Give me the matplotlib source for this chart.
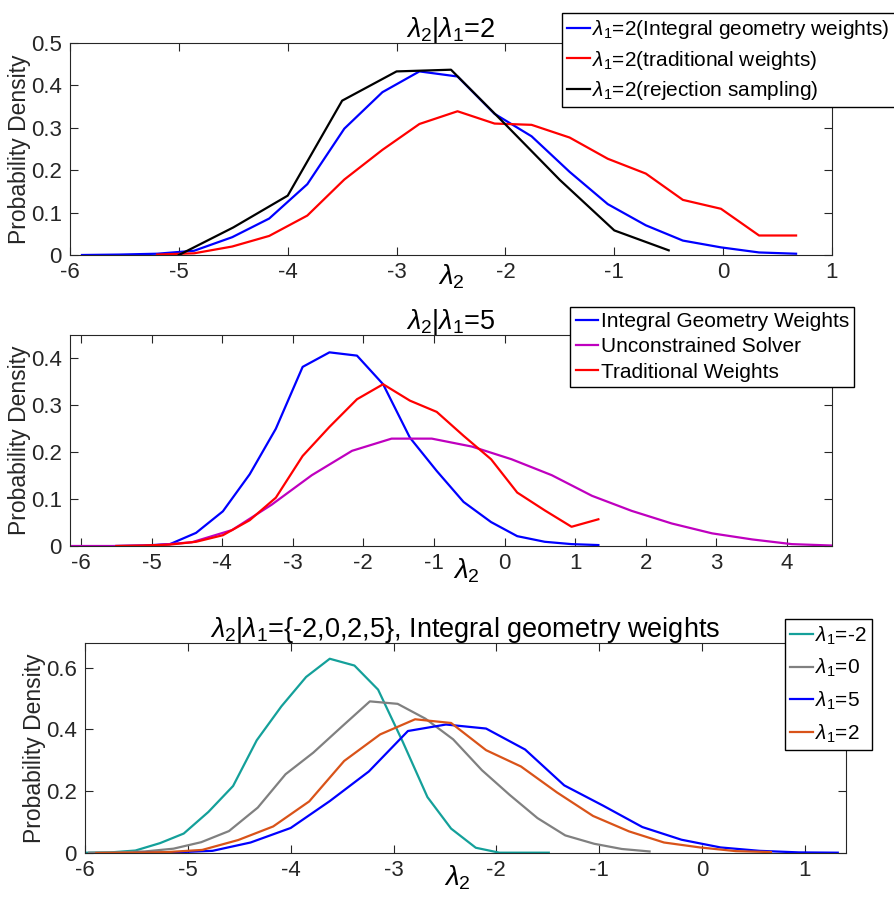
import matplotlib
matplotlib.use("Agg")
import matplotlib.pyplot as plt
from matplotlib.ticker import FormatStrFormatter

plt.rcParams['font.family'] = ['Liberation Sans', 'DejaVu Sans']
plt.rcParams['mathtext.fontset'] = 'custom'
plt.rcParams['mathtext.rm'] = 'Liberation Sans'
plt.rcParams['mathtext.it'] = 'Liberation Sans:italic'
plt.rcParams['axes.unicode_minus'] = False

# panel 1: lambda_1 = 2
x_p1 = [-5.89, -5.55, -5.20, -4.86, -4.51, -4.17, -3.82, -3.48, -3.13, -2.79,
        -2.44, -2.10, -1.76, -1.41, -1.06, -0.71, -0.37, -0.02, 0.33, 0.67]
ig_p1 = [0, 0.001, 0.003, 0.010, 0.042, 0.086, 0.167, 0.298, 0.384, 0.433,
         0.421, 0.333, 0.280, 0.196, 0.120, 0.070, 0.034, 0.018, 0.006, 0.003]
x_trad_p1 = x_p1[2:]
trad_p1 = [0.001, 0.004, 0.020, 0.045, 0.093, 0.178, 0.248, 0.309, 0.339,
           0.310, 0.307, 0.277, 0.227, 0.192, 0.130, 0.109, 0.046, 0.046]
x_rej = [-5.0, -4.5, -4.0, -3.5, -3.0, -2.5, -2.0, -1.5, -1.0, -0.5]
rej = [0, 0.065, 0.140, 0.364, 0.433, 0.437, 0.308, 0.177, 0.058, 0.011]

# panel 2: lambda_1 = 5
x_p2 = [-5.50, -5.12, -4.74, -4.37, -3.99, -3.61, -3.24, -2.86, -2.48, -2.09,
        -1.72, -1.34, -0.96, -0.58, -0.19, 0.18, 0.57, 0.95, 1.33]
ig_p2 = [0, 0.001, 0.004, 0.028, 0.074, 0.153, 0.250, 0.382, 0.413, 0.406,
         0.345, 0.231, 0.160, 0.094, 0.051, 0.021, 0.009, 0.004, 0.002]
trad_p2 = [0, 0.001, 0.003, 0.009, 0.023, 0.055, 0.103, 0.192, 0.254, 0.313,
           0.345, 0.310, 0.286, 0.235, 0.185, 0.114, 0.076, 0.041, 0.057]
x_unc = [-6.13, -5.56, -5.00, -4.43, -3.86, -3.30, -2.73, -2.16, -1.60, -1.03,
         -0.46, 0.10, 0.67, 1.24, 1.80, 2.37, 2.94, 3.51, 4.07, 4.64]
unc = [0, 0, 0.001, 0.008, 0.034, 0.088, 0.151, 0.203, 0.229, 0.229,
       0.212, 0.185, 0.151, 0.107, 0.075, 0.048, 0.027, 0.014, 0.004, 0.001]

# panel 3: several lambda_1 values, integral geometry weights
x_m2 = [-5.98, -5.75, -5.51, -5.27, -5.04, -4.80, -4.56, -4.33, -4.09, -3.85,
        -3.62, -3.38, -3.15, -2.91, -2.67, -2.44, -2.20, -1.97, -1.73, -1.49]
y_m2 = [0.001, 0.002, 0.008, 0.032, 0.063, 0.133, 0.217, 0.365, 0.475, 0.570,
        0.629, 0.607, 0.529, 0.360, 0.181, 0.079, 0.017, 0.001, 0.001, 0.001]
x_0 = [-5.96, -5.69, -5.42, -5.14, -4.87, -4.60, -4.32, -4.05, -3.78, -3.50,
       -3.23, -2.96, -2.69, -2.42, -2.14, -1.87, -1.60, -1.33, -1.05, -0.78, -0.51]
y_0 = [0.001, 0.002, 0.005, 0.014, 0.035, 0.071, 0.147, 0.255, 0.325, 0.410,
       0.491, 0.483, 0.435, 0.368, 0.268, 0.188, 0.113, 0.057, 0.030, 0.013, 0.005]
x_5 = [-5.52, -5.14, -4.76, -4.39, -4.00, -3.62, -3.24, -2.86, -2.49, -2.10,
       -1.72, -1.34, -0.96, -0.58, -0.20, 0.18, 0.56, 0.94, 1.32]
y_5 = [0, 0.002, 0.007, 0.034, 0.081, 0.168, 0.264, 0.395, 0.416, 0.403,
       0.335, 0.219, 0.153, 0.084, 0.043, 0.018, 0.007, 0.002, 0.001]
x_2 = x_p1
y_2 = ig_p1

W, H = 895, 899
fig = plt.figure(figsize=(W / 100, H / 100), dpi=100)

def make_axes(left, right, top, bottom):
    return fig.add_axes([left / W, 1 - bottom / H, (right - left) / W, (bottom - top) / H])

def style(ax, xt, yt):
    ax.set_xticks(xt)
    ax.set_yticks(yt)
    ax.yaxis.set_major_formatter(FormatStrFormatter('%g'))
    ax.tick_params(direction='in', length=6, width=0.8, top=True, right=True,
                   labelsize=16, colors='#262626')
    ax.tick_params(axis='x', pad=5)
    ax.tick_params(axis='y', pad=6)
    for s in ax.spines.values():
        s.set_color('#262626')
        s.set_linewidth(0.8)
    ax.set_ylabel('Probability Density', fontsize=16.5, color='#262626', labelpad=0)

def legend(ax, right, top, **kw):
    leg = ax.legend(loc='upper right', bbox_to_anchor=(right / W, 1 - top / H),
                    bbox_transform=fig.transFigure, fontsize=15, fancybox=False,
                    framealpha=1, edgecolor='black', borderaxespad=0, borderpad=0.25,
                    handlelength=1.1, handletextpad=0.1, **kw)
    leg.get_frame().set_linewidth(1.0)

lw = 1.6

# panel 1
ax1 = make_axes(70, 832, 43, 255)
ax1.plot(x_p1, ig_p1, color='#0000ff', lw=lw, label=r'$\lambda_1$=2(Integral geometry weights)')
ax1.plot(x_trad_p1, trad_p1, color='#ff0000', lw=lw, label=r'$\lambda_1$=2(traditional weights)')
ax1.plot(x_rej, rej, color='black', lw=lw, label=r'$\lambda_1$=2(rejection sampling)')
ax1.set_xlim(-6, 1)
ax1.set_ylim(0, 0.5)
style(ax1, range(-6, 2), [0, 0.1, 0.2, 0.3, 0.4, 0.5])
ax1.set_title(r'$\lambda_2|\lambda_1$=2', fontsize=19.5, pad=4)
ax1.set_xlabel(r'$\lambda_2$', fontsize=20)
ax1.xaxis.set_label_coords(0.5, -0.035)
legend(ax1, 895, 13, labelspacing=0.35)

# panel 2
ax2 = make_axes(70, 832, 335, 546)
ax2.plot(x_p2, ig_p2, color='#0000ff', lw=lw, label='Integral Geometry Weights')
ax2.plot(x_unc, unc, color='#bf00bf', lw=lw, label='Unconstrained Solver')
ax2.plot(x_p2, trad_p2, color='#ff0000', lw=lw, label='Traditional Weights')
ax2.set_xlim(-6.156, 4.64)
ax2.set_ylim(0, 0.45)
style(ax2, range(-6, 5), [0, 0.1, 0.2, 0.3, 0.4])
ax2.set_title(r'$\lambda_2|\lambda_1$=5', fontsize=19.5, pad=4)
ax2.set_xlabel(r'$\lambda_2$', fontsize=20)
ax2.xaxis.set_label_coords(0.52, -0.05)
legend(ax2, 854, 307, labelspacing=0.3)

# panel 3
ax3 = make_axes(85, 846, 643, 853)
ax3.plot(x_m2, y_m2, color='#14a09a', lw=lw, label=r'$\lambda_1$=-2')
ax3.plot(x_0, y_0, color='#808080', lw=lw, label=r'$\lambda_1$=0')
ax3.plot(x_5, y_5, color='#0000ff', lw=lw, label=r'$\lambda_1$=5')
ax3.plot(x_2, y_2, color='#d95319', lw=lw, label=r'$\lambda_1$=2')
ax3.set_xlim(-6, 1.4)
ax3.set_ylim(0, 0.68)
style(ax3, range(-6, 2), [0, 0.2, 0.4, 0.6])
ax3.set_title(r'$\lambda_2|\lambda_1$={-2,0,2,5}, Integral geometry weights', fontsize=19.5, pad=4)
ax3.set_xlabel(r'$\lambda_2$', fontsize=20)
ax3.xaxis.set_label_coords(0.49, -0.05)
legend(ax3, 872, 619, labelspacing=0.5)

fig.savefig('out.png', dpi=100)
